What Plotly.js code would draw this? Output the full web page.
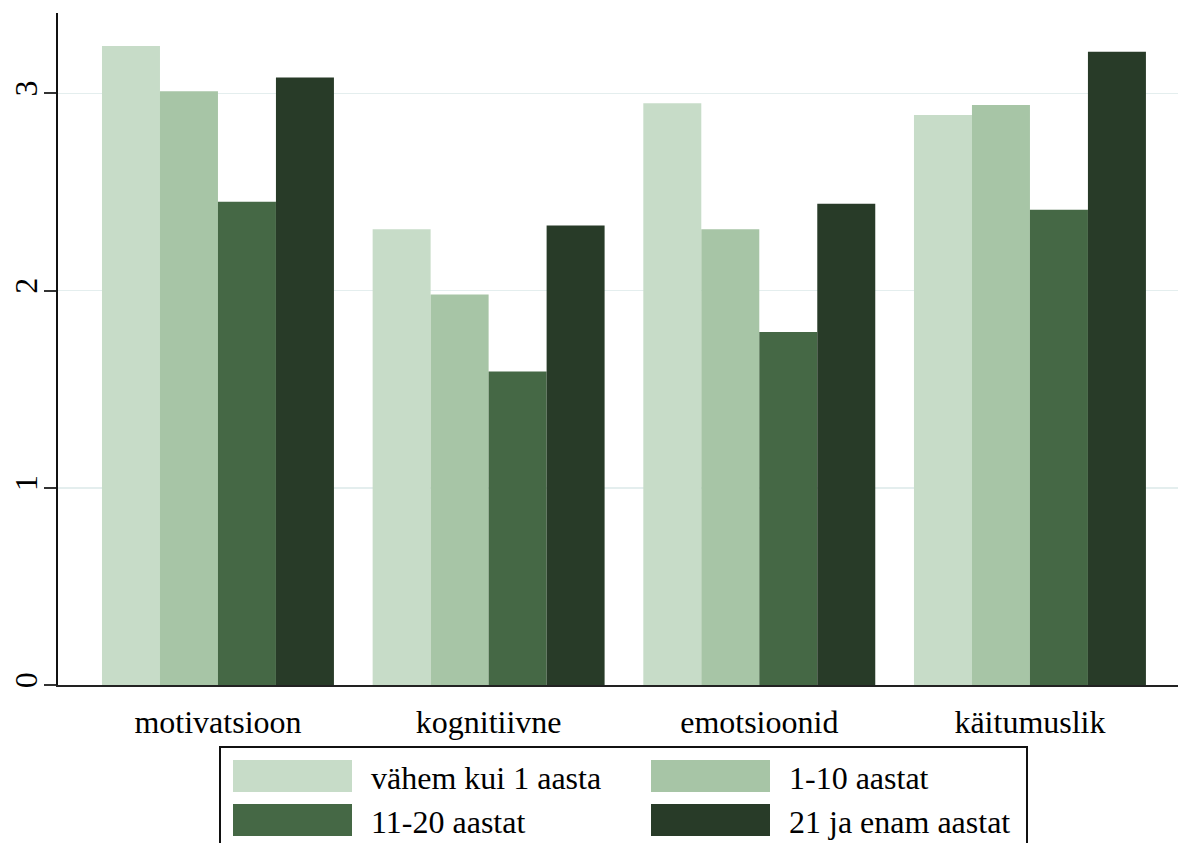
<!DOCTYPE html>
<html>
<head>
<meta charset="utf-8">
<script src="https://cdn.plot.ly/plotly-3.0.1.min.js"></script>
<style>html,body{margin:0;padding:0;background:#fff;}#chart{width:1178px;height:843px;}</style>
</head>
<body>
<div id="chart"></div>
<script>
const categories = ["motivatsioon", "kognitiivne", "emotsioonid", "käitumuslik"];
const seriesNames = ["vähem kui 1 aasta", "1-10 aastat", "11-20 aastat", "21 ja enam aastat"];
const lessThan1 = [3.24, 2.31, 2.95, 2.89];
const years1to10 = [3.01, 1.98, 2.31, 2.94];
const years11to20 = [2.45, 1.59, 1.79, 2.41];
const years21plus = [3.08, 2.33, 2.44, 3.21];
const seriesColors = ["#c7dcc8", "#a7c5a6", "#456845", "#283b28"];
const yTicks = [0, 1, 2, 3];

const W = 1178, H = 843;
const M = {l: 58, r: 0, t: 13, b: 158};
const PW = W - M.l - M.r, PH = H - M.t - M.b;
const px = v => (v - M.l) / PW;
const py = v => (H - M.b - v) / PH;
const FONT = "Liberation Serif";

const values = [lessThan1, years1to10, years11to20, years21plus];
const traces = values.map((vals, i) => ({
  type: "bar",
  name: seriesNames[i],
  x: categories,
  y: vals,
  marker: {color: seriesColors[i], line: {width: 0}},
  hoverinfo: "x+y+name"
}));

// custom legend (large swatches as in the reference)
const shapes = [{
  type: "rect", xref: "paper", yref: "paper",
  x0: px(220), x1: px(1027), y0: py(747), y1: py(870),
  line: {color: "#111", width: 2}, fillcolor: "rgba(0,0,0,0)"
}];
const annotations = [];
const colX = [233, 651];
const rowY = [760, 804];
seriesNames.forEach((name, i) => {
  const c = i % 2, r = Math.floor(i / 2);
  shapes.push({
    type: "rect", xref: "paper", yref: "paper",
    x0: px(colX[c]), x1: px(colX[c] + 119),
    y0: py(rowY[r]), y1: py(rowY[r] + 32),
    line: {width: 0}, fillcolor: seriesColors[i]
  });
  annotations.push({
    xref: "paper", yref: "paper",
    x: px(colX[c] + 136), y: py(rowY[r] + 18),
    xanchor: "left", yanchor: "middle",
    text: name, showarrow: false,
    font: {family: FONT, size: 32, color: "#000"}
  });
});

const layout = {
  width: W, height: H,
  margin: M,
  paper_bgcolor: "#fff", plot_bgcolor: "#fff",
  barmode: "group", bargap: 0.143, bargroupgap: 0,
  showlegend: false,
  xaxis: {
    type: "category",
    range: [-0.591, 3.547],
    showline: true, linecolor: "#222", linewidth: 2,
    ticks: "", showgrid: false, zeroline: false,
    tickfont: {family: FONT, size: 32, color: "#000"},
    ticklabelstandoff: 8
  },
  yaxis: {
    range: [0, 3.407],
    tickvals: yTicks, ticktext: yTicks.map(String),
    showline: true, linecolor: "#111", linewidth: 2,
    ticks: "outside", ticklen: 12, tickwidth: 2, tickcolor: "#333",
    showgrid: true, gridcolor: "#e4eeee", gridwidth: 1.5,
    zeroline: false,
    tickangle: -90,
    tickfont: {family: FONT, size: 32, color: "#000"},
    ticklabelstandoff: -6
  },
  shapes: shapes,
  annotations: annotations,
  font: {family: FONT}
};

Plotly.newPlot("chart", traces, layout, {displayModeBar: false, staticPlot: true});
</script>
</body>
</html>
